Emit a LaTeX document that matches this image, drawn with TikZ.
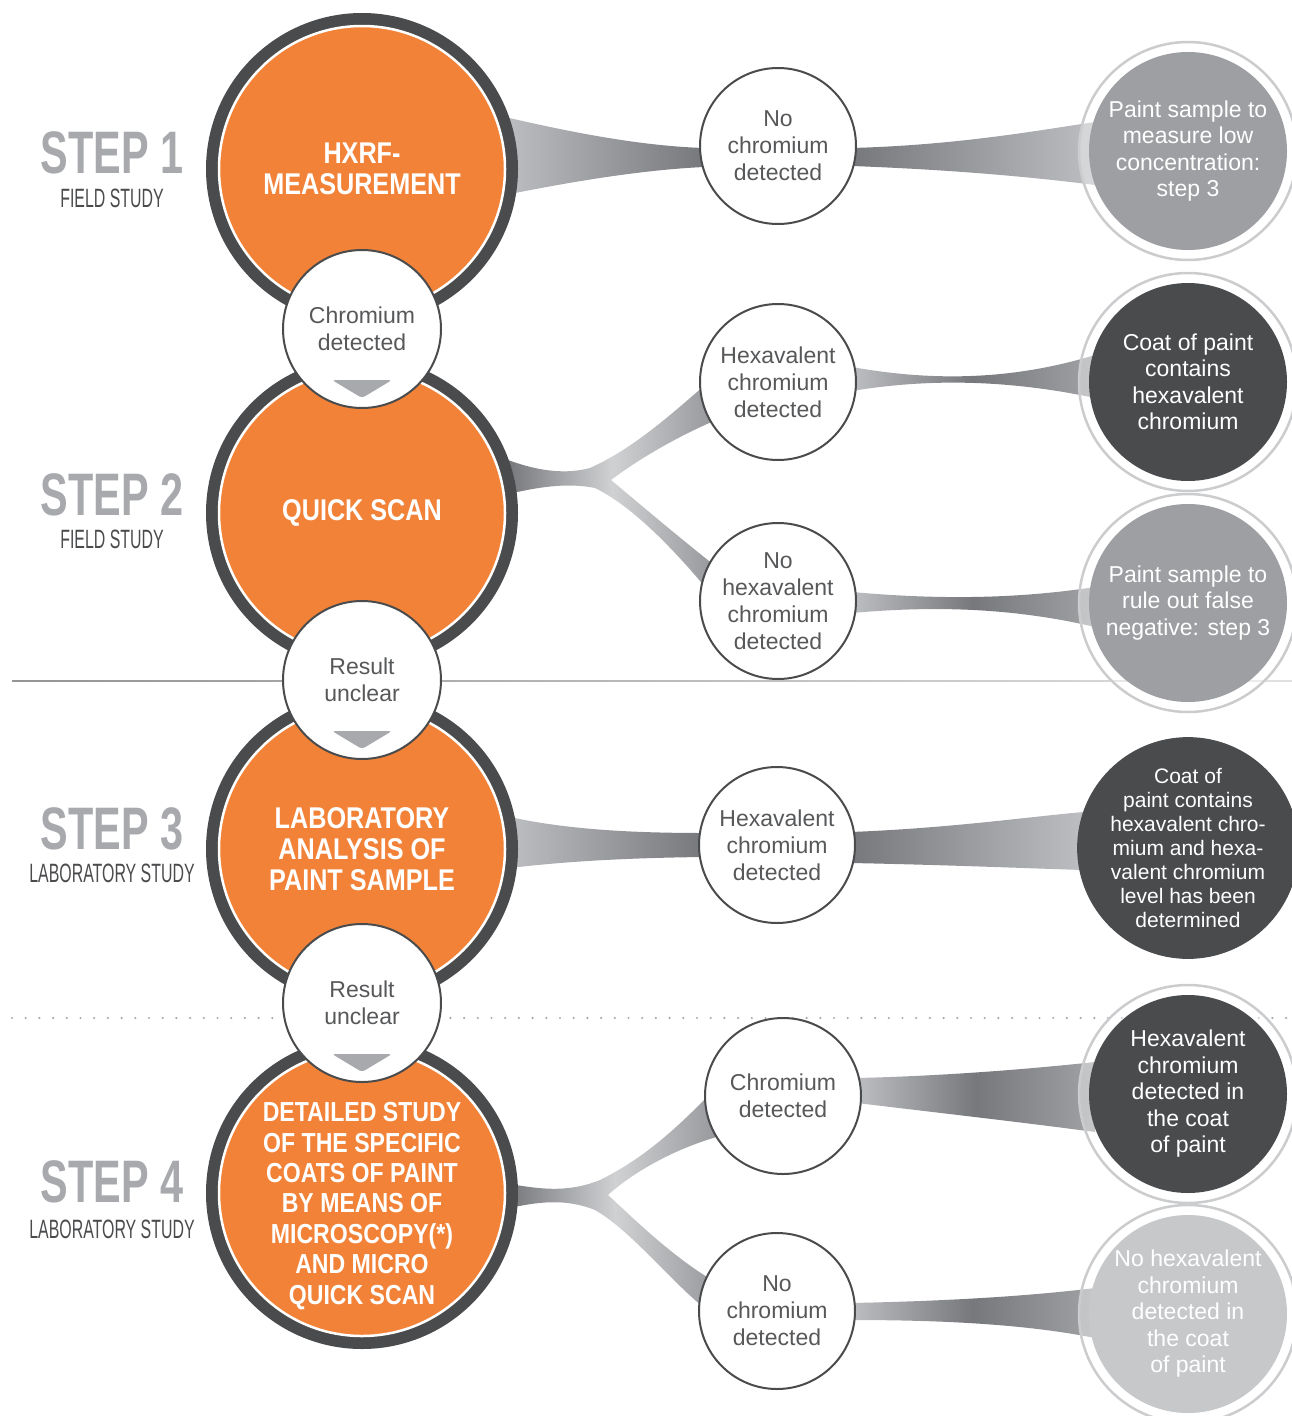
\documentclass[tikz,border=0pt]{standalone}
\usepackage{fontspec}
\setmainfont{Liberation Sans}
\newfontfamily\stepfont[FakeStretch=0.69]{Liberation Sans}
\newfontfamily\studyfont[FakeStretch=0.6]{Liberation Sans}
\newfontfamily\condfont[FakeStretch=0.84]{Liberation Sans}
\usetikzlibrary{calc,positioning}

\definecolor{paintorange}{HTML}{F28238}
\definecolor{ringdark}{HTML}{4A4B4D}
\definecolor{stepgray}{HTML}{A7A9AC}
\definecolor{textgray}{HTML}{57585A}
\definecolor{resmid}{HTML}{9D9FA2}
\definecolor{reslight}{HTML}{C7C8CA}
\definecolor{resring}{HTML}{CBCCCE}
\definecolor{linklight}{HTML}{BDBEC1}
\definecolor{linkdark}{HTML}{77787C}
\definecolor{forklight}{HTML}{D0D1D3}
\definecolor{forkend}{HTML}{96979A}

\pgfdeclarelayer{bg}
\pgfdeclarelayer{links}
\pgfdeclarelayer{rings}
\pgfsetlayers{bg,links,rings,main}

\tikzset{
  steplabel/.style={anchor=base, inner sep=0pt, text=stepgray, font=\stepfont\bfseries\fontsize{60}{60}\selectfont},
  studylabel/.style={anchor=base, inner sep=0pt, text=ringdark, font=\studyfont\fontsize{26.5}{26.5}\selectfont},
  stepcircle/.style={circle, minimum size=286pt, inner sep=0pt, outer sep=0pt, fill=paintorange,
    draw=white, line width=2.5pt, preaction={draw=ringdark, line width=26pt}},
  steptext/.style={text=white, align=center, font=\condfont\bfseries\fontsize{30}{31}\selectfont},
  branchcircle/.style={circle, minimum size=158pt, inner sep=0pt, outer sep=0pt, fill=white,
    draw=ringdark, line width=2pt, text=textgray, align=center, font=\fontsize{23}{27}\selectfont},
  outcome/.style={branchcircle, minimum size=156pt},
  result/.style={circle, minimum size=198pt, inner sep=0pt, outer sep=0pt, text=white,
    align=center, font=\fontsize{23}{26.5}\selectfont},
  resultring/.style={draw=resring, line width=2.5pt, fill=white, fill opacity=0.4},
  downarrow/.style={fill=stepgray, rounded corners=3pt},
  ribbonin/.style={left color=linklight, right color=linkdark},
  ribbonout/.style={left color=linkdark, right color=linklight},
  ribbonmid/.style={left color=linklight, right color=linklight!85!black, middle color=linkdark},
  forkshade/.style={left color=linkdark, right color=forkend, middle color=forklight},
  dotline/.style={draw=stepgray, line width=2.4pt, line cap=round, dash pattern=on 0pt off 13.7pt}
}

\begin{document}
\begin{tikzpicture}[x=1pt,y=1pt]
\useasboundingbox (0,0) rectangle (1292,-1416);

% step labels
\node[steplabel]  (step1)  at (112,-173)  {STEP 1};
\node[studylabel] (study1) at (112,-207)  {FIELD STUDY};
\node[steplabel]  (step2)  at (112,-515)  {STEP 2};
\node[studylabel] (study2) at (112,-548)  {FIELD STUDY};
\node[steplabel]  (step3)  at (112,-849)  {STEP 3};
\node[studylabel] (study3) at (112,-882)  {LABORATORY STUDY};
\node[steplabel]  (step4)  at (112,-1202) {STEP 4};
\node[studylabel] (study4) at (112,-1238) {LABORATORY STUDY};

% main steps
\node[stepcircle, steptext] (s1) at (362,-169)  {HXRF-\\MEASUREMENT};
\node[stepcircle, steptext] (s2) at (362,-513)  {QUICK SCAN};
\node[stepcircle, steptext] (s3) at (362,-849)  {LABORATORY\\ANALYSIS OF\\PAINT SAMPLE};
\node[stepcircle] (s4) at (362,-1193) {};
\node[steptext, font=\condfont\bfseries\fontsize{27.5}{30.4}\selectfont] (s4text) at ($(s4)+(0,-13)$)
  {DETAILED STUDY\\OF THE SPECIFIC\\COATS OF PAINT\\BY MEANS OF\\MICROSCOPY(*)\\AND MICRO\\QUICK SCAN};

% links between the steps
\node[branchcircle] (c1) at (362,-329)  {Chromium\\detected};
\node[branchcircle] (c2) at (362,-680)  {Result\\unclear};
\node[branchcircle] (c3) at (362,-1003) {Result\\unclear};
\foreach \c in {c1,c2,c3}
  \fill[downarrow] ($(\c)+(-30,-51)$) -- ($(\c)+(30,-51)$) -- ($(\c)+(0,-69)$) -- cycle;

% outcomes
\node[outcome] (m1) at (778,-146)  {No\\chromium\\detected};
\node[outcome] (m2) at (778,-382)  {Hexavalent\\chromium\\detected};
\node[outcome] (m3) at (778,-601)  {No\\hexavalent\\chromium\\detected};
\node[outcome] (m4) at (777,-845)  {Hexavalent\\chromium\\detected};
\node[outcome] (m5) at (783,-1096) {Chromium\\detected};
\node[outcome] (m6) at (777,-1311) {No\\chromium\\detected};

% results
\node[result, fill=resmid]   (r1) at (1188,-151)  {Paint sample to\\measure low\\concentration:\\step 3};
\node[result, fill=ringdark] (r2) at (1188,-382)  {Coat of paint\\contains\\hexavalent\\chromium};
\node[result, fill=resmid]   (r3) at (1188,-603)  {Paint sample to\\rule out false\\negative: step 3};
\node[result, fill=ringdark, font=\fontsize{21}{24}\selectfont] (r4) at (1188,-848)
  {Coat of\\paint contains\\hexavalent chro-\\mium and hexa-\\valent chromium\\level has been\\determined};
\node[result, fill=ringdark] (r5) at (1188,-1094) {Hexavalent\\chromium\\detected in\\the coat\\of paint};
\node[result, fill=reslight] (r6) at (1188,-1314) {No hexavalent\\chromium\\detected in\\the coat\\of paint};

\begin{pgfonlayer}{rings}
  \foreach \r in {r1,r2,r3,r4,r5,r6}
    \draw[resultring] (\r.center) circle[radius=109];
\end{pgfonlayer}

\begin{pgfonlayer}{bg}
  \shade[left color=black!42, right color=black!12] (12,-680.2) rectangle (1292,-681.8);
  \draw[dotline] (12,-1018) -- (1292,-1018);
\end{pgfonlayer}

\begin{pgfonlayer}{links}
  % step 1
  \shade[ribbonin] ($(s1.east)+(0,52)$) .. controls +(65,-15) and +(-64,2) .. ($(m1.west)+(4,-2)$)
    -- ($(m1.west)+(4,-21)$) .. controls +(-64,-3) and +(65,13) .. ($(s1.east)+(0,-26)$) -- cycle;
  \shade[ribbonout] ($(m1.east)+(-4,-2)$) .. controls +(108,3) and +(-55,-8) .. ($(r1.west)+(6,29)$)
    -- ($(r1.west)+(6,-34)$) .. controls +(-55,7) and +(108,-4) .. ($(m1.east)+(-4,-20)$) -- cycle;
  % step 2
  \shade[forkshade] ($(s2.east)+(3,53)$) .. controls +(22,-8) and +(-30,-8) .. ($(s2.east)+(85,45)$)
    .. controls +(40,18) and +(-40,-35) .. ($(m2.west)+(5,-3)$)
    -- ($(m2.west)+(16,-38)$) .. controls +(-46,-20) and +(24,18) .. ($(s2.east)+(106,33)$)
    .. controls +(24,-20) and +(-44,35) .. ($(m3.west)+(14,36)$)
    -- ($(m3.west)+(6,13)$) .. controls +(-36,43) and +(35,-17) .. ($(s2.east)+(90,25)$)
    .. controls +(-30,6) and +(27,6) .. ($(s2.east)+(3,19)$) -- cycle;
  \shade[ribbonmid] ($(m2.east)+(-4,15)$) .. controls +(78,-14) and +(-85,-26) .. ($(r2.west)+(6,27)$)
    -- ($(r2.west)+(6,-16)$) .. controls +(-85,18) and +(78,13) .. ($(m2.east)+(-4,-9)$) -- cycle;
  \shade[ribbonmid] ($(m3.east)+(-4,9)$) .. controls +(78,-7) and +(-85,-13) .. ($(r3.west)+(6,16)$)
    -- ($(r3.west)+(6,-24)$) .. controls +(-85,20) and +(78,7) .. ($(m3.east)+(-4,-12)$) -- cycle;
  % step 3
  \shade[ribbonin] ($(s3.east)+(5,32)$) .. controls +(50,-11) and +(-83,0) .. ($(m4.west)+(4,12)$)
    -- ($(m4.west)+(4,-12)$) .. controls +(-83,-1) and +(50,6) .. ($(s3.east)+(5,-19)$) -- cycle;
  \shade[ribbonout] ($(m4.east)+(-4,13)$) .. controls +(99,4) and +(-65,-6) .. ($(r4.west)+(6,36)$)
    -- ($(r4.west)+(6,-22)$) .. controls +(-65,2) and +(99,-2) .. ($(m4.east)+(-4,-18)$) -- cycle;
  % step 4
  \shade[forkshade] ($(s4.east)+(5,9)$) .. controls +(35,-6) and +(-30,-12) .. ($(s4.east)+(95,13)$)
    .. controls +(40,20) and +(-40,-41) .. ($(m5.west)+(5,2)$)
    -- ($(m5.west)+(15,-40)$) .. controls +(-50,-14) and +(22,20) .. ($(s4.east)+(103,-2)$)
    .. controls +(22,-20) and +(-42,25) .. ($(m6.west)+(13,31)$)
    -- ($(m6.west)+(3,5)$) .. controls +(-32,26) and +(35,-20) .. ($(s4.east)+(90,-17)$)
    .. controls +(-25,10) and +(35,8) .. ($(s4.east)+(5,-15)$) -- cycle;
  \shade[ribbonmid] ($(m5.east)+(-4,18)$) .. controls +(83,2) and +(-75,-8) .. ($(r5.west)+(6,32)$)
    -- ($(r5.west)+(6,-38)$) .. controls +(-75,10) and +(83,-10) .. ($(m5.east)+(-4,-7)$) -- cycle;
  \shade[ribbonmid] ($(m6.east)+(-4,8)$) .. controls +(99,2) and +(-65,-8) .. ($(r6.west)+(6,26)$)
    -- ($(r6.west)+(6,-24)$) .. controls +(-65,13) and +(99,0) .. ($(m6.east)+(-4,-9)$) -- cycle;
\end{pgfonlayer}
\end{tikzpicture}
\end{document}
